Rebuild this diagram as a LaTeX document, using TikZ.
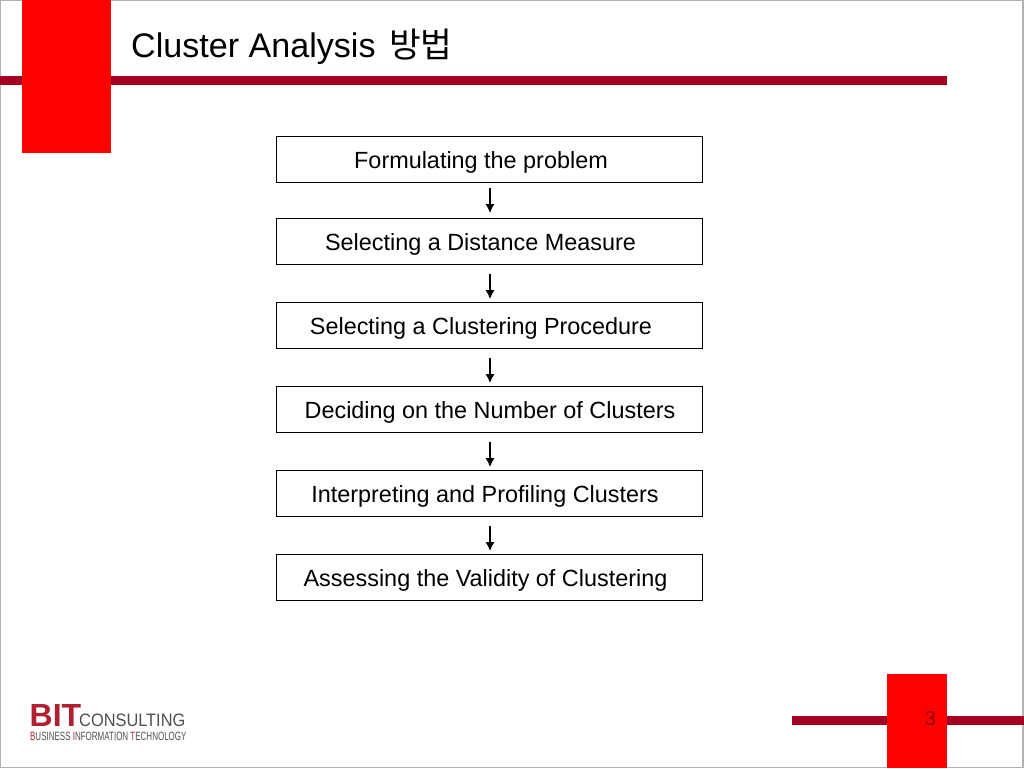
\documentclass[tikz,border=0pt]{standalone}
\usepackage{fontspec}
\usetikzlibrary{arrows.meta}
\setmainfont{Liberation Sans}
\newfontfamily\krfont{Noto Sans CJK KR}
\definecolor{barred}{HTML}{A50021}
\definecolor{logored}{HTML}{B02030}
\definecolor{logogray}{HTML}{505050}
\begin{document}
\begin{tikzpicture}[
            x=1pt, y=-1pt,
            step box/.style={draw=black, line width=0.8pt, fill=white, minimum width=426.5pt, minimum height=46pt, inner sep=0pt},
            step text/.style={font=\fontsize{23.4}{27}\selectfont, inner sep=0pt, anchor=base},
            step arrow/.style={draw=black, line width=1.4pt, -{Latex[length=9pt,width=9pt]}, transform canvas={xshift=0.5pt}},
            ]
            \useasboundingbox (0,0) rectangle (1024,768);
            \fill[white] (0,0) rectangle (1024,768);
            \draw[gray!60, line width=1.5pt] (0.5,0.5) rectangle (1023,767.5);

            % bars and tabs
            \fill[barred] (0,75.5) rectangle (947,85);
            \fill[red] (22,0) rectangle (111,153);
            \fill[barred] (792,716) rectangle (1024,725);
            \fill[red] (887,674) rectangle (947,768);

            \node[font=\fontsize{34.1}{38}\selectfont, anchor=base west, inner sep=0pt] (title) at (131,57) {Cluster Analysis\hspace{4pt} {\krfont\fontsize{34.5}{38}\selectfont 방법}};
            \node[font=\fontsize{20}{24}\selectfont, text=red!55!black, inner sep=0pt] (page) at (930.5,719) {3};

            % steps
            \node[step box] (b1) at (489.5,159.5) {};
            \node[step box] (b2) at (489.5,241.5) {};
            \node[step box] (b3) at (489.5,325.5) {};
            \node[step box] (b4) at (489.5,409.5) {};
            \node[step box] (b5) at (489.5,493.5) {};
            \node[step box] (b6) at (489.5,577.5) {};

            \node[step text] (t1) at (481,168) {Formulating the problem};
            \node[step text] (t2) at (480.5,250) {Selecting a Distance Measure};
            \node[step text] (t3) at (481,334) {Selecting a Clustering Procedure};
            \node[step text] (t4) at (490,418) {Deciding on the Number of Clusters};
            \node[step text] (t5) at (485,502) {Interpreting and Profiling Clusters};
            \node[step text] (t6) at (485.5,586) {Assessing the Validity of Clustering};

            \draw[step arrow, shorten <=5pt, shorten >=5pt] (b1) -- (b2);
            \draw[step arrow, shorten <=9pt, shorten >=3pt] (b2) -- (b3);
            \draw[step arrow, shorten <=9pt, shorten >=3pt] (b3) -- (b4);
            \draw[step arrow, shorten <=9pt, shorten >=3pt] (b4) -- (b5);
            \draw[step arrow, shorten <=9pt, shorten >=3pt] (b5) -- (b6);

            % logo
            \node[font=\fontsize{32}{34}\bfseries\selectfont, text=logored, anchor=base west, inner sep=0pt] (bit) at (29.5,726) {BIT};
            \node[font=\fontsize{18}{20}\selectfont, text=logogray, anchor=base west, inner sep=0pt, xscale=0.91, transform shape] (consulting) at (79,726.5) {CONSULTING};
            \node[font=\fontsize{12}{14}\selectfont, text=logogray, anchor=base west, inner sep=0pt, xscale=0.667, transform shape] (tagline) at (30,740.5) {\textcolor{logored}{B}USINESS \textcolor{logored}{I}NFORMATION \textcolor{logored}{T}ECHNOLOGY};
\end{tikzpicture}
\end{document}
